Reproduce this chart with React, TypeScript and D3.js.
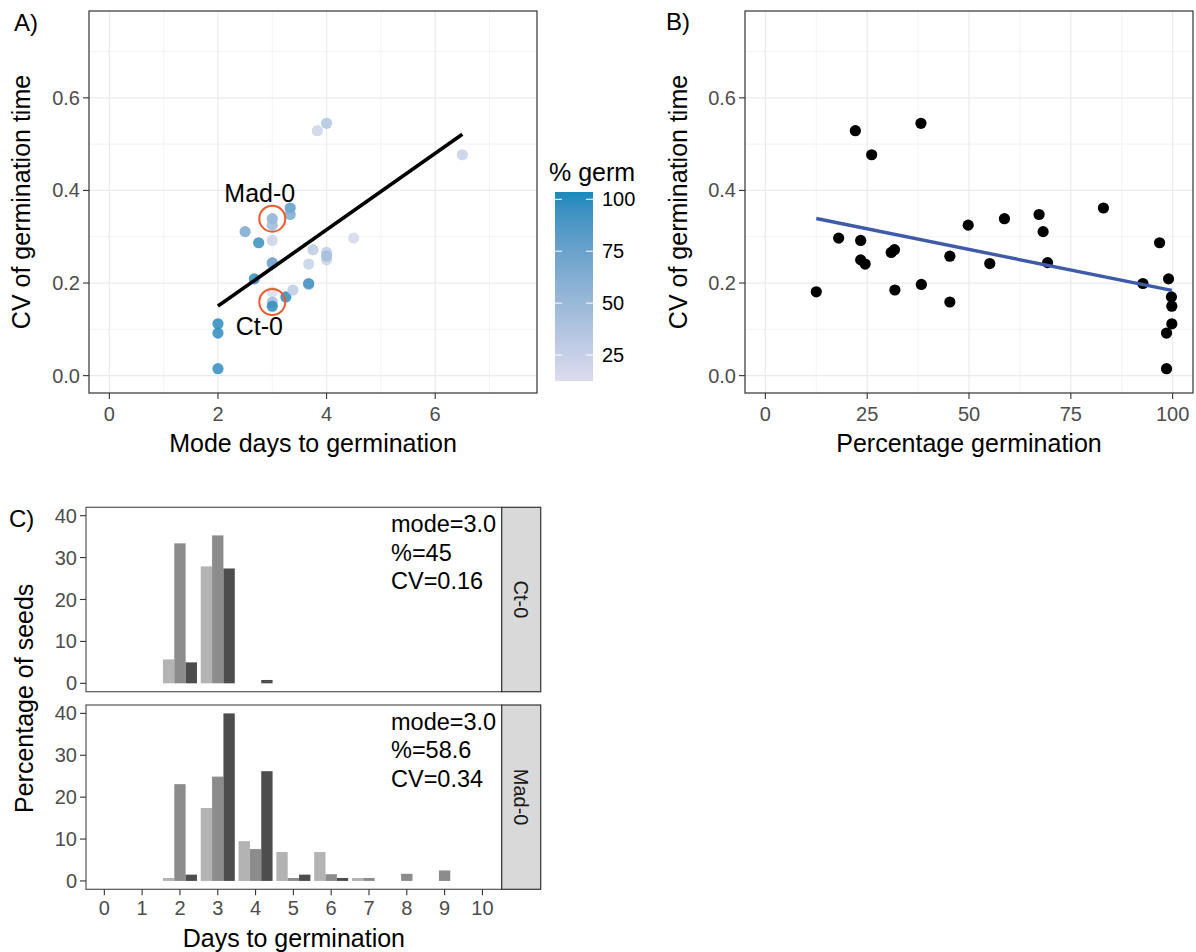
import React from "react";
import * as d3 from "d3";

// Accession-level summaries: modal germination day, % germination and CV of germination time
const accessionMode = [2, 2, 2, 2.5, 2.75, 2.67, 3, 3, 3, 3, 3, 3, 3, 3, 3.33, 3.33, 3.25, 3.38, 3.67, 3.67, 3.67, 3.75, 4, 4, 4, 4.5, 3.83, 4, 6.5];
const accessionPct = [98.5, 98.5, 99.8, 68.2, 96.8, 99.0, 58.7, 49.8, 23.4, 55.1, 69.3, 12.5, 45.3, 99.8, 83.0, 67.2, 99.7, 31.8, 38.3, 92.7, 24.5, 31.7, 30.9, 23.4, 45.3, 18.0, 22.1, 38.2, 26.1];
const accessionCV = [0.015, 0.092, 0.112, 0.311, 0.287, 0.209, 0.339, 0.325, 0.292, 0.242, 0.244, 0.181, 0.159, 0.150, 0.362, 0.348, 0.170, 0.185, 0.197, 0.199, 0.241, 0.272, 0.266, 0.250, 0.258, 0.297, 0.529, 0.545, 0.477];

// Highlighted accessions
const highlightNames = ["Mad-0", "Ct-0"];
const highlightMode = [3, 3];
const highlightCV = [0.339, 0.159];

// Germination-time distributions per replicate (percentage of seeds per day)
const dayBins = [2, 3, 4, 5, 6, 7, 8, 9];
const ct0Rep1 = [5.7, 27.9, 0, 0, 0, 0, 0, 0];
const ct0Rep2 = [33.4, 35.3, 0, 0, 0, 0, 0, 0];
const ct0Rep3 = [5.0, 27.4, 0.8, 0, 0, 0, 0, 0];
const mad0Rep1 = [0.7, 17.4, 9.5, 6.9, 6.9, 0.7, 0, 0];
const mad0Rep2 = [23.1, 24.9, 7.6, 0.7, 1.6, 0.7, 1.7, 2.5];
const mad0Rep3 = [1.5, 40.0, 26.2, 1.5, 0.7, 0, 0, 0];

const facetNames = ["Ct-0", "Mad-0"];
const facetSummary = [
  ["mode=3.0", "%=45", "CV=0.16"],
  ["mode=3.0", "%=58.6", "CV=0.34"],
];

const cvTicks = [0, 0.2, 0.4, 0.6];
const cvMinor = [0.1, 0.3, 0.5, 0.7];
const modeTicks = [0, 2, 4, 6];
const modeMinor = [1, 3, 5, 7];
const pctTicks = [0, 25, 50, 75, 100];
const pctMinor = [12.5, 37.5, 62.5, 87.5];
const seedTicks = [0, 10, 20, 30, 40];
const dayTicks = [0, 1, 2, 3, 4, 5, 6, 7, 8, 9, 10];
const legendTicks = [25, 50, 75, 100];

const FONT = "'Liberation Sans', Arial, Helvetica, sans-serif";
const TICK_COLOR = "#4d4d4d";
const BORDER = "#333333";
const GRID = "#ebebeb";
const REP_FILLS = ["#b3b3b3", "#8c8c8c", "#4d4d4d"];
const LOW = "#dcdcee";
const HIGH = "#2b8cbe";

function linFit(xs: number[], ys: number[]) {
  const mx = d3.mean(xs)!;
  const my = d3.mean(ys)!;
  let sxy = 0;
  let sxx = 0;
  xs.forEach((x, i) => {
    sxy += (x - mx) * (ys[i] - my);
    sxx += (x - mx) * (x - mx);
  });
  const slope = sxy / sxx;
  return { slope, intercept: my - slope * mx };
}

type Box = { left: number; right: number; top: number; bottom: number };

function Grid({ box, x, y, xMajor, xMinor, yMajor, yMinor }: any) {
  return (
    <g>
      {xMinor.map((v: number) => (
        <line key={"xm" + v} x1={x(v)} x2={x(v)} y1={box.top} y2={box.bottom} stroke={GRID} strokeWidth={0.6} />
      ))}
      {yMinor.map((v: number) => (
        <line key={"ym" + v} x1={box.left} x2={box.right} y1={y(v)} y2={y(v)} stroke={GRID} strokeWidth={0.6} />
      ))}
      {xMajor.map((v: number) => (
        <line key={"xM" + v} x1={x(v)} x2={x(v)} y1={box.top} y2={box.bottom} stroke={GRID} strokeWidth={1.2} />
      ))}
      {yMajor.map((v: number) => (
        <line key={"yM" + v} x1={box.left} x2={box.right} y1={y(v)} y2={y(v)} stroke={GRID} strokeWidth={1.2} />
      ))}
    </g>
  );
}

function YAxis({ box, y, ticks, fmt }: any) {
  return (
    <g>
      {ticks.map((v: number) => (
        <g key={v}>
          <line x1={box.left - 6} x2={box.left} y1={y(v)} y2={y(v)} stroke={BORDER} strokeWidth={1.1} />
          <text x={box.left - 9} y={y(v)} dy="0.35em" textAnchor="end" fontSize={20} fill={TICK_COLOR} fontFamily={FONT}>
            {fmt(v)}
          </text>
        </g>
      ))}
    </g>
  );
}

function XAxis({ box, x, ticks, fmt, labelY }: any) {
  return (
    <g>
      {ticks.map((v: number) => (
        <g key={v}>
          <line x1={x(v)} x2={x(v)} y1={box.bottom} y2={box.bottom + 6} stroke={BORDER} strokeWidth={1.1} />
          <text x={x(v)} y={labelY} textAnchor="middle" fontSize={20} fill={TICK_COLOR} fontFamily={FONT}>
            {fmt(v)}
          </text>
        </g>
      ))}
    </g>
  );
}

function Frame({ box, stroke = BORDER }: { box: Box; stroke?: string }) {
  return (
    <rect x={box.left} y={box.top} width={box.right - box.left} height={box.bottom - box.top} fill="none" stroke={stroke} strokeWidth={1.2} />
  );
}

export default function App() {
  // Panel A: CV vs mode days
  const boxA: Box = { left: 89, right: 537, top: 11, bottom: 393 };
  const xA = d3.scaleLinear().domain([-0.375, 7.875]).range([boxA.left, boxA.right]);
  const yA = d3.scaleLinear().domain([-0.0375, 0.7875]).range([boxA.bottom, boxA.top]);
  const pctExtent = d3.extent(accessionPct) as [number, number];
  const colour = d3.scaleLinear<string>().domain(pctExtent).range([LOW, HIGH]).interpolate(d3.interpolateLab);
  const fitA = linFit(accessionMode, accessionCV);
  const modeExtent = d3.extent(accessionMode) as [number, number];

  // Panel B: CV vs percentage germination
  const boxB: Box = { left: 745, right: 1193, top: 11, bottom: 393 };
  const xB = d3.scaleLinear().domain([-5, 105]).range([boxB.left, boxB.right]);
  const yB = yA.copy();
  const fitB = linFit(accessionPct, accessionCV);

  // Legend
  const legBar = { left: 555, right: 593, top: 192, bottom: 381 };
  const legScale = d3.scaleLinear().domain([pctExtent[0], 100]).range([legBar.bottom, 199.3]);
  const gradStops = d3.range(0, 1.0001, 0.1);
  const legTop = legScale.invert(legBar.top);

  // Panel C: distributions
  const cLeft = 86;
  const cRight = 501.7;
  const stripRight = 540.7;
  const facetBoxes: Box[] = [
    { left: cLeft, right: cRight, top: 507.3, bottom: 691.7 },
    { left: cLeft, right: cRight, top: 705, bottom: 889.3 },
  ];
  const xC = d3.scaleLinear().domain([-0.485, 10.51]).range([cLeft, cRight]);
  const facetReps = [
    [ct0Rep1, ct0Rep2, ct0Rep3],
    [mad0Rep1, mad0Rep2, mad0Rep3],
  ];
  const groupWidth = 0.9;
  const barW = groupWidth / 3;

  const fmtCV = d3.format(".1f");

  return (
    <svg width={1196} height={952} style={{ position: "absolute", left: 0, top: 0, background: "#fff" }} fontFamily={FONT}>
      <rect x={0} y={0} width={1196} height={952} fill="#fff" />

      {/* ---------- Panel A ---------- */}
      <text x={14} y={31} fontSize={24} fill="#000">A)</text>
      <Grid box={boxA} x={xA} y={yA} xMajor={modeTicks} xMinor={modeMinor} yMajor={cvTicks} yMinor={cvMinor} />
      {accessionMode.map((m, i) => (
        <circle key={i} cx={xA(m)} cy={yA(accessionCV[i])} r={5.6} fill={colour(accessionPct[i])} fillOpacity={0.85} />
      ))}
      <line
        x1={xA(modeExtent[0])}
        y1={yA(fitA.intercept + fitA.slope * modeExtent[0])}
        x2={xA(modeExtent[1])}
        y2={yA(fitA.intercept + fitA.slope * modeExtent[1])}
        stroke="#000"
        strokeWidth={3.6}
      />
      {highlightNames.map((n, i) => (
        <circle key={n} cx={xA(highlightMode[i])} cy={yA(highlightCV[i])} r={13} fill="none" stroke="#ee5a2e" strokeWidth={2} />
      ))}
      <text x={xA(2.77)} y={yA(0.375)} textAnchor="middle" fontSize={25} fill="#000">{highlightNames[0]}</text>
      <text x={xA(3.0) - 13} y={yA(0.087)} textAnchor="middle" fontSize={25} fill="#000">{highlightNames[1]}</text>
      <Frame box={boxA} />
      <YAxis box={boxA} y={yA} ticks={cvTicks} fmt={fmtCV} />
      <XAxis box={boxA} x={xA} ticks={modeTicks} fmt={(v: number) => String(v)} labelY={421} />
      <text x={(boxA.left + boxA.right) / 2} y={452} textAnchor="middle" fontSize={25} fill="#000">Mode days to germination</text>
      <text transform={`translate(30,${(boxA.top + boxA.bottom) / 2}) rotate(-90)`} textAnchor="middle" fontSize={25} fill="#000">
        CV of germination time
      </text>

      {/* Colour legend */}
      <defs>
        <linearGradient id="germGrad" x1="0" y1="1" x2="0" y2="0">
          {gradStops.map((t) => (
            <stop key={t} offset={t} stopColor={colour(pctExtent[0] + t * (legTop - pctExtent[0]))} />
          ))}
        </linearGradient>
      </defs>
      <text x={549} y={181} fontSize={25} fill="#000">% germ</text>
      <rect x={legBar.left} y={legBar.top} width={legBar.right - legBar.left} height={legBar.bottom - legBar.top} fill="url(#germGrad)" />
      {legendTicks.map((v) => (
        <g key={v}>
          <line x1={legBar.left} x2={legBar.left + 7} y1={legScale(v)} y2={legScale(v)} stroke="#fff" strokeWidth={1} />
          <line x1={legBar.right - 7} x2={legBar.right} y1={legScale(v)} y2={legScale(v)} stroke="#fff" strokeWidth={1} />
          <text x={602} y={legScale(v)} dy="0.35em" fontSize={20} fill="#000">{v}</text>
        </g>
      ))}

      {/* ---------- Panel B ---------- */}
      <text x={666} y={30} fontSize={24} fill="#000">B)</text>
      <Grid box={boxB} x={xB} y={yB} xMajor={pctTicks} xMinor={pctMinor} yMajor={cvTicks} yMinor={cvMinor} />
      {accessionPct.map((p, i) => (
        <circle key={i} cx={xB(p)} cy={yB(accessionCV[i])} r={5.6} fill="#000" />
      ))}
      <line
        x1={xB(pctExtent[0])}
        y1={yB(fitB.intercept + fitB.slope * pctExtent[0])}
        x2={xB(pctExtent[1])}
        y2={yB(fitB.intercept + fitB.slope * pctExtent[1])}
        stroke="#3f5aa9"
        strokeWidth={3.4}
      />
      <Frame box={boxB} />
      <YAxis box={boxB} y={yB} ticks={cvTicks} fmt={fmtCV} />
      <XAxis box={boxB} x={xB} ticks={pctTicks} fmt={(v: number) => String(v)} labelY={421} />
      <text x={(boxB.left + boxB.right) / 2} y={452} textAnchor="middle" fontSize={25} fill="#000">Percentage germination</text>
      <text transform={`translate(687,${(boxB.top + boxB.bottom) / 2}) rotate(-90)`} textAnchor="middle" fontSize={25} fill="#000">
        CV of germination time
      </text>

      {/* ---------- Panel C ---------- */}
      <text x={9} y={527} fontSize={24} fill="#000">C)</text>
      {facetBoxes.map((box, f) => {
        const yC = d3.scaleLinear().domain([-2, 42]).range([box.bottom, box.top]);
        const reps = facetReps[f];
        return (
          <g key={f}>
            {dayBins.map((day, di) =>
              reps.map((rep, r) => {
                const v = rep[di];
                if (!v) return null;
                const x0 = xC(day - groupWidth / 2 + r * barW);
                const x1 = xC(day - groupWidth / 2 + (r + 1) * barW);
                return <rect key={`${day}-${r}`} x={x0} y={yC(v)} width={x1 - x0} height={yC(0) - yC(v)} fill={REP_FILLS[r]} />;
              })
            )}
            {facetSummary[f].map((line, li) => (
              <text key={li} x={391} y={box.top + 25 + li * 28.4} fontSize={23.5} fill="#000">{line}</text>
            ))}
            <Frame box={box} stroke="#555555" />
            <YAxis box={box} y={yC} ticks={seedTicks} fmt={(v: number) => String(v)} />
            <rect x={cRight} y={box.top} width={stripRight - cRight} height={box.bottom - box.top} fill="#d9d9d9" stroke={BORDER} strokeWidth={1.2} />
            <text
              transform={`translate(${(cRight + stripRight) / 2},${(box.top + box.bottom) / 2}) rotate(90)`}
              textAnchor="middle"
              dy="0.35em"
              fontSize={20}
              fill="#1a1a1a"
            >
              {facetNames[f]}
            </text>
          </g>
        );
      })}
      <XAxis box={facetBoxes[1]} x={xC} ticks={dayTicks} fmt={(v: number) => String(v)} labelY={915} />
      <text x={(cLeft + cRight) / 2} y={947} textAnchor="middle" fontSize={25} fill="#000">Days to germination</text>
      <text
        transform={`translate(33,${(facetBoxes[0].top + facetBoxes[1].bottom) / 2}) rotate(-90)`}
        textAnchor="middle"
        fontSize={25}
        fill="#000"
      >
        Percentage of seeds
      </text>
    </svg>
  );
}
